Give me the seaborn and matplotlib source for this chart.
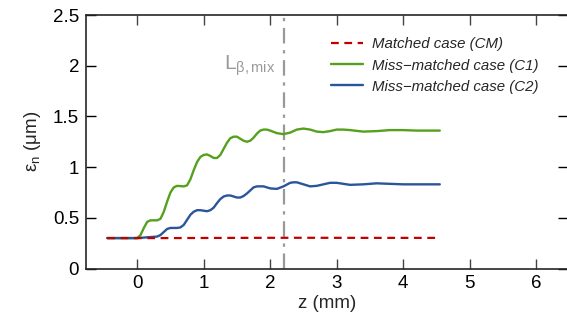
import numpy as np
import pandas as pd
import matplotlib
matplotlib.use("Agg")
import matplotlib.pyplot as plt
import seaborn as sns

# emittance vs z
z_cm = [-0.45, 0.5, 1.5, 2.5, 3.5, 4.55]
eps_cm = [0.30, 0.30, 0.302, 0.303, 0.302, 0.302]

z_c1 = [-0.45, 0.0, 0.05, 0.1, 0.15, 0.2, 0.3, 0.35, 0.4, 0.45, 0.5, 0.55, 0.6, 0.7,
        0.75, 0.8, 0.85, 0.9, 0.95, 1.0, 1.05, 1.1, 1.15, 1.2, 1.25, 1.3, 1.35, 1.4,
        1.45, 1.5, 1.55, 1.6, 1.65, 1.7, 1.75, 1.8, 1.85, 1.9, 1.95, 2.0, 2.1, 2.2,
        2.3, 2.4, 2.5, 2.6, 2.7, 2.8, 2.9, 3.0, 3.1, 3.2, 3.4, 3.6, 3.8, 4.0, 4.2,
        4.4, 4.55]
eps_c1 = [0.30, 0.30, 0.33, 0.40, 0.46, 0.475, 0.475, 0.49, 0.56, 0.66, 0.75, 0.80,
          0.815, 0.81, 0.82, 0.88, 0.97, 1.05, 1.10, 1.12, 1.125, 1.11, 1.09, 1.09,
          1.12, 1.18, 1.24, 1.285, 1.30, 1.30, 1.28, 1.26, 1.25, 1.26, 1.29, 1.33,
          1.36, 1.37, 1.37, 1.36, 1.335, 1.325, 1.34, 1.37, 1.38, 1.37, 1.35, 1.345,
          1.355, 1.37, 1.37, 1.365, 1.35, 1.355, 1.365, 1.365, 1.36, 1.36, 1.36]

z_c2 = [-0.45, 0.0, 0.1, 0.2, 0.3, 0.35, 0.4, 0.45, 0.5, 0.6, 0.65, 0.7, 0.75, 0.8,
        0.85, 0.9, 0.95, 1.0, 1.05, 1.1, 1.15, 1.2, 1.25, 1.3, 1.35, 1.4, 1.45, 1.5,
        1.55, 1.6, 1.65, 1.7, 1.75, 1.8, 1.9, 2.0, 2.1, 2.2, 2.3, 2.35, 2.4, 2.5,
        2.6, 2.7, 2.8, 2.9, 3.0, 3.2, 3.4, 3.6, 3.8, 4.0, 4.3, 4.55]
eps_c2 = [0.30, 0.30, 0.305, 0.31, 0.315, 0.33, 0.36, 0.39, 0.40, 0.40, 0.405, 0.43,
          0.48, 0.53, 0.56, 0.575, 0.575, 0.57, 0.565, 0.575, 0.60, 0.645, 0.685,
          0.71, 0.72, 0.72, 0.71, 0.70, 0.70, 0.715, 0.74, 0.77, 0.80, 0.81, 0.81,
          0.79, 0.785, 0.81, 0.845, 0.85, 0.85, 0.83, 0.81, 0.815, 0.83, 0.845,
          0.845, 0.825, 0.83, 0.84, 0.835, 0.83, 0.83, 0.83]

labels = ["Matched case (CM)", "Miss\u2212matched case (C1)", "Miss\u2212matched case (C2)"]
colors = ["#c00000", "#55a01c", "#2b559b"]
z_mix = 2.2

sns.set_style("ticks")
plt.rcParams["font.family"] = ["Liberation Sans", "DejaVu Sans"]
plt.rcParams["mathtext.fontset"] = "custom"
plt.rcParams["mathtext.rm"] = "Liberation Sans"
plt.rcParams["mathtext.it"] = "Liberation Sans:italic"

fig = plt.figure(figsize=(5.67, 3.28), dpi=100)
ax = fig.add_axes([86 / 567, 1 - 268.5 / 328, 1.002 - 86 / 567, 253.5 / 328])

ax.axvline(z_mix, color="#999999", lw=1.6, ls=(0, (7, 3, 1.5, 3)), zorder=1)

sns.lineplot(x=z_cm, y=eps_cm, ax=ax, color=colors[0], lw=1.6,
             label=labels[0], zorder=4)
ax.lines[-1].set_linestyle((0, (3.5, 2.5)))
sns.lineplot(x=z_c1, y=eps_c1, ax=ax, color=colors[1], lw=1.7, label=labels[1], zorder=3)
sns.lineplot(x=z_c2, y=eps_c2, ax=ax, color=colors[2], lw=1.7, label=labels[2], zorder=3)

ax.text(2.07, 2.0, r"$\mathrm{L}_{\mathrm{\beta,mix}}$", color="#999999",
        fontsize=15, ha="right", va="center")

ax.set_xlim(-0.77, 6.48)
ax.set_ylim(0, 2.5)
ax.set_xticks(range(0, 7))
ax.set_yticks([0, 0.5, 1, 1.5, 2, 2.5])
ax.set_yticklabels(["0", "0.5", "1", "1.5", "2", "2.5"])
ax.tick_params(direction="in", length=7, width=1, labelsize=13.5, pad=5,
               top=True, right=True, colors="black")
ax.tick_params(axis="x", colors="#444444", labelcolor="black")
for s in ["left", "bottom", "top"]:
    ax.spines[s].set_linewidth(1.2)
ax.spines["right"].set_visible(False)

ax.set_xlabel("z (mm)", fontsize=13.5, labelpad=2)
ax.set_ylabel(r"$\mathrm{ε}_\mathrm{n}$ (μm)", fontsize=13.5, labelpad=7)

leg = ax.legend(loc="upper left", bbox_to_anchor=(0.508, 0.912), frameon=False,
                fontsize=10.8, handlelength=2.15, handletextpad=0.6,
                labelspacing=0.48, borderpad=0, borderaxespad=0)
for t in leg.get_texts():
    t.set_fontstyle("italic")

fig.savefig("out.png", dpi=100)
